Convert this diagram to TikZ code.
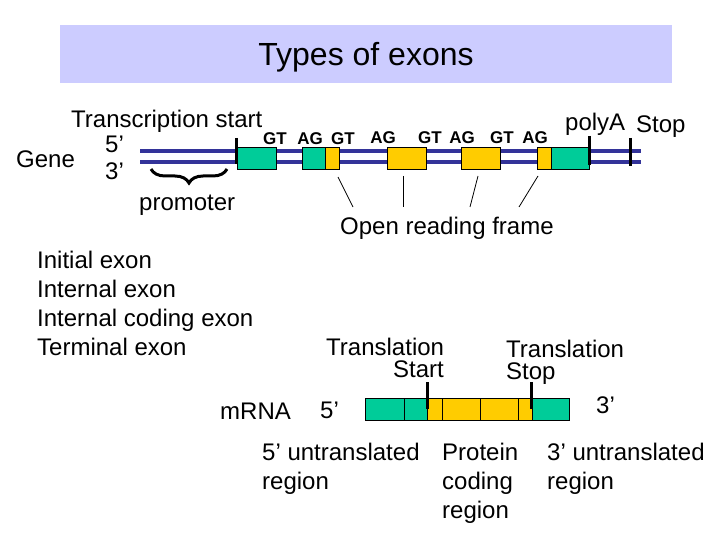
\documentclass[tikz,border=0pt]{standalone}
\usepackage{fontspec}
\setmainfont{Liberation Sans}
\usetikzlibrary{decorations.pathreplacing}
\definecolor{exgreen}{RGB}{0,204,153}
\definecolor{exyellow}{RGB}{255,204,0}
\definecolor{strand}{RGB}{51,51,153}
\definecolor{titlebg}{RGB}{204,204,255}
\begin{document}
\begin{tikzpicture}[x=1pt,y=-1pt,
  txt/.style={inner sep=0pt,anchor=base west,font=\fontsize{24}{28}\selectfont},
  site/.style={inner sep=0pt,anchor=base,font=\fontsize{17}{19}\selectfont\bfseries},
  box/.style={draw=black,line width=0.8pt,inner sep=0pt,minimum height=22pt},
  gbox/.style={box,fill=exgreen},
  ybox/.style={box,fill=exyellow},
  tick/.style={line width=3pt,black},
  strandline/.style={line width=4pt,strand},
  link/.style={line width=0.8pt,black}]
\useasboundingbox (0,0) rectangle (720,540);
% title
\node[fill=titlebg,minimum width=612pt,minimum height=58pt,inner sep=0pt] (titlebox) at (366,54) {};
\node[inner sep=0pt,anchor=base,font=\fontsize{32}{36}\selectfont] (title) at (366,66) {Types of exons};

% gene strands
\coordinate (s5a) at (140,151); \coordinate (s5b) at (641,151);
\coordinate (s3a) at (140,162); \coordinate (s3b) at (641,162);
\draw[strandline] (s5a) -- (s5b);
\draw[strandline] (s3a) -- (s3b);

% exons on gene
\node[gbox,minimum width=39pt] (e1) at (256.5,158) {};
\node[gbox,minimum width=23pt] (e2g) at (314,158) {};
\node[ybox,minimum width=14pt] (e2y) at (332.5,158) {};
\node[ybox,minimum width=39pt] (e3) at (406.5,158) {};
\node[ybox,minimum width=39pt] (e4) at (480.5,158) {};
\node[ybox,minimum width=14pt] (e5y) at (544,158) {};
\node[gbox,minimum width=38pt] (e5g) at (570,158) {};

% ticks
\coordinate (tsA) at (236,138); \coordinate (tsB) at (236,164);
\coordinate (paA) at (589,136); \coordinate (paB) at (589,165);
\coordinate (stA) at (630,138); \coordinate (stB) at (630,166);
\draw[tick] (tsA) -- (tsB);
\draw[tick] (paA) -- (paB);
\draw[tick] (stA) -- (stB);

% labels gene
\node[txt] (tstart) at (71,128) {Transcription start};
\node[txt] (g5) at (105,153) {5’};
\node[txt] (g3) at (105,180) {3’};
\node[txt] (gene) at (16,168) {Gene};
\node[txt] (polya) at (565,131) {polyA};
\node[txt] (stop) at (636,133) {Stop};

% splice sites
\node[site] (s1) at (275,145) {GT};
\node[site] (s2) at (310,145) {AG};
\node[site] (s3) at (343,145) {GT};
\node[site] (s4) at (383,144) {AG};
\node[site] (s5) at (430,144) {GT};
\node[site] (s6) at (462,144) {AG};
\node[site] (s7) at (502,144) {GT};
\node[site] (s8) at (535,144) {AG};

% promoter brace
\coordinate (brA) at (151,169); \coordinate (brB) at (227,169);
\draw[line width=3pt,decorate,decoration={brace,mirror,amplitude=14pt}] (brA) -- (brB);
\node[txt] (prom) at (139,211) {promoter};

% open reading frame
\node[txt] (orf) at (340,234) {Open reading frame};
\coordinate (l1a) at (338,177); \coordinate (l1b) at (353,207);
\coordinate (l2a) at (403,176); \coordinate (l2b) at (403,207);
\coordinate (l3a) at (478,176); \coordinate (l3b) at (470,207);
\coordinate (l4a) at (538,176); \coordinate (l4b) at (519,207);
\draw[link] (l1a) -- (l1b);
\draw[link] (l2a) -- (l2b);
\draw[link] (l3a) -- (l3b);
\draw[link] (l4a) -- (l4b);

% list
\node[txt] (li1) at (37,268) {Initial exon};
\node[txt] (li2) at (37,297) {Internal exon};
\node[txt] (li3) at (37,326) {Internal coding exon};
\node[txt] (li4) at (37,355) {Terminal exon};

% translation labels
\node[txt] (trs1) at (326,355) {Translation};
\node[txt,anchor=base east] (trs2) at (444,377) {Start};
\node[txt] (trp1) at (506,357) {Translation};
\node[txt] (trp2) at (506,379) {Stop};

% mRNA
\node[txt] (mrna) at (220,419) {mRNA};
\node[txt] (m5) at (320,418) {5’};
\node[txt] (m3) at (596,413) {3’};
\node[gbox,minimum width=39pt] (m1) at (384.5,409) {};
\node[gbox,minimum width=23pt] (m2) at (415.5,409) {};
\node[ybox,minimum width=15pt] (m3b) at (434.5,409) {};
\node[ybox,minimum width=38pt] (m4) at (461,409) {};
\node[ybox,minimum width=38pt] (m5b) at (499,409) {};
\node[ybox,minimum width=14pt] (m6) at (525,409) {};
\node[gbox,minimum width=37pt] (m7) at (550.5,409) {};
\coordinate (mtA) at (427,382); \coordinate (mtB) at (427,409);
\coordinate (mpA) at (531,382); \coordinate (mpB) at (531,409);
\draw[tick] (mtA) -- (mtB);
\draw[tick] (mpA) -- (mpB);

% bottom labels
\node[txt] (b1) at (262,460) {5’ untranslated};
\node[txt] (b2) at (262,489) {region};
\node[txt] (b3) at (442,460) {Protein};
\node[txt] (b4) at (442,489) {coding};
\node[txt] (b5) at (442,518) {region};
\node[txt] (b6) at (547,460) {3’ untranslated};
\node[txt] (b7) at (547,489) {region};
\end{tikzpicture}
\end{document}
